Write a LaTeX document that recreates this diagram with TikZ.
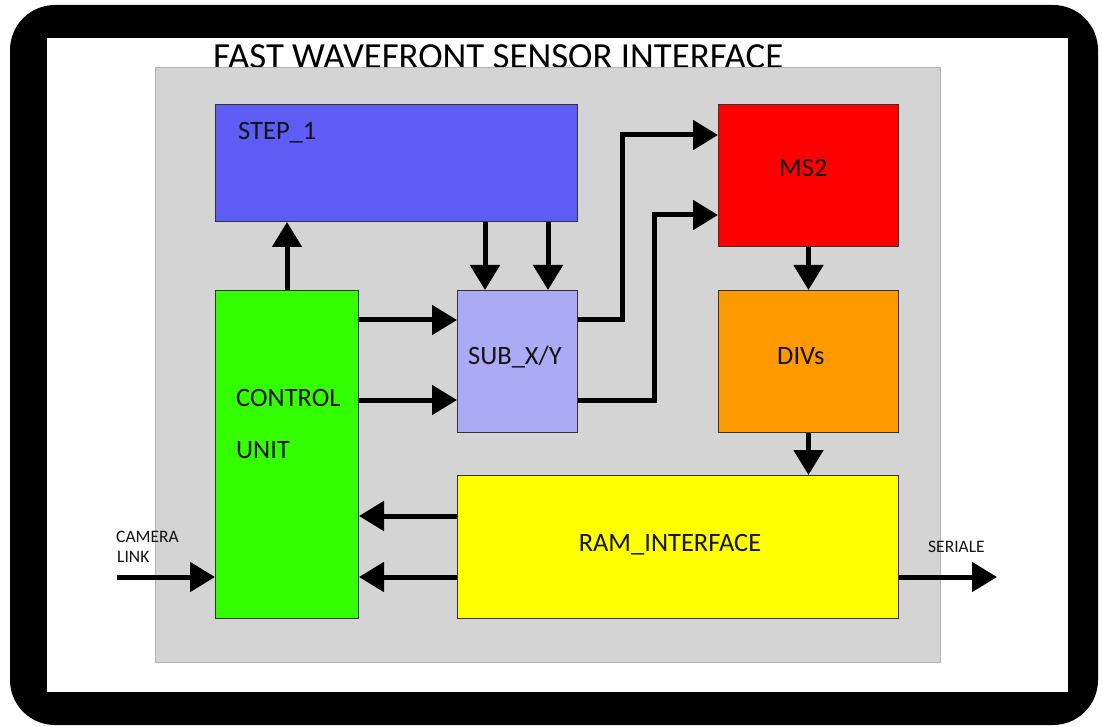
\documentclass[tikz,border=0pt]{standalone}
\usepackage{fontspec}
\setmainfont{Carlito}
\usetikzlibrary{arrows.meta}
\definecolor{stepblue}{RGB}{93,93,246}
\definecolor{cugreen}{RGB}{51,255,0}
\definecolor{sublav}{RGB}{170,170,245}
\definecolor{msred}{RGB}{255,0,0}
\definecolor{divorange}{RGB}{255,153,0}
\definecolor{ramyellow}{RGB}{255,255,0}
\definecolor{panelgray}{RGB}{212,212,212}
\definecolor{txt}{RGB}{20,20,20}
\begin{document}
\begin{tikzpicture}[x=1pt,y=-1pt,
  blockbox/.style={draw=black!80, line width=1pt, anchor=north west, inner sep=0pt},
  lbl/.style={anchor=base west, inner sep=0pt, text=txt, font=\fontsize{26.5}{28}\selectfont},
  smalllbl/.style={anchor=base west, inner sep=0pt, text=txt, font=\fontsize{17.5}{19}\selectfont},
  arr/.style={line width=5pt, -{Triangle[length=25pt,width=29pt]}, line join=miter}]
\fill[white] (0,0) rectangle (1103,727);
\useasboundingbox (0,0) rectangle (1103,727);
% frame
\fill[black, rounded corners=45pt] (10,5) rectangle (1098,725);
\fill[white] (47,38) rectangle (1068,692);
% title
\node[anchor=base west, inner sep=0pt, font=\fontsize{36.8}{38}\selectfont] (title) at (213,69) {FAST WAVEFRONT SENSOR INTERFACE};
% panel
\filldraw[fill=panelgray, draw=black!30, line width=1pt] (155,68) rectangle (940,662);
% blocks
\node[blockbox, fill=stepblue, minimum width=362pt, minimum height=117pt] (step) at (215,104) {};
\node[blockbox, fill=cugreen, minimum width=143pt, minimum height=328pt] (ctrl) at (215,290) {};
\node[blockbox, fill=sublav, minimum width=120pt, minimum height=142pt] (sub) at (457,290) {};
\node[blockbox, fill=msred, minimum width=180pt, minimum height=142pt] (ms2) at (718,104) {};
\node[blockbox, fill=divorange, minimum width=180pt, minimum height=142pt] (divs) at (718,290) {};
\node[blockbox, fill=ramyellow, minimum width=441pt, minimum height=143pt] (ram) at (457,475) {};
% labels
\node[lbl] (steplbl) at (238,140) {STEP\_1};
\node[lbl] (ctrllbl1) at (236,406) {CONTROL};
\node[lbl] (ctrllbl2) at (236,458) {UNIT};
\node[lbl] (sublbl) at (468,364) {SUB\_X/Y};
\node[lbl] (mslbl) at (779,177) {MS2};
\node[lbl] (divlbl) at (777,364) {DIVs};
\node[lbl, anchor=base] (ramlbl) at (670,551) {RAM\_INTERFACE};
\node[smalllbl] (cam1) at (116,542) {CAMERA};
\node[smalllbl] (cam2) at (117,562) {LINK};
\node[smalllbl] (serlbl) at (928,552) {SERIALE};
\coordinate (camin) at (117,577);
\coordinate (serout) at (997,577);
% connectors
\draw[arr] (ctrl.north) -- (step.south -| ctrl.north);
\draw[arr] (step.south -| 485,0) -- (sub.north -| 485,0);
\draw[arr] (step.south -| 548,0) -- (sub.north -| 548,0);
\draw[arr] (ctrl.east |- 0,320) -- (sub.west |- 0,320);
\draw[arr] (ctrl.east |- 0,400) -- (sub.west |- 0,400);
\draw[arr] (sub.east |- 0,320) -- (622,320) -- (622,135) -- (ms2.west |- 0,135);
\draw[arr] (sub.east |- 0,400) -- (654,400) -- (654,215) -- (ms2.west |- 0,215);
\draw[arr] (ms2.south) -- (divs.north);
\draw[arr] (divs.south) -- (ram.north -| divs.south);
\draw[arr] (ram.west |- 0,516) -- (ctrl.east |- 0,516);
\draw[arr] (ram.west |- 0,577) -- (ctrl.east |- 0,577);
\draw[arr] (camin) -- (ctrl.west |- camin);
\draw[arr] (ram.east |- serout) -- (serout);
\end{tikzpicture}
\end{document}
